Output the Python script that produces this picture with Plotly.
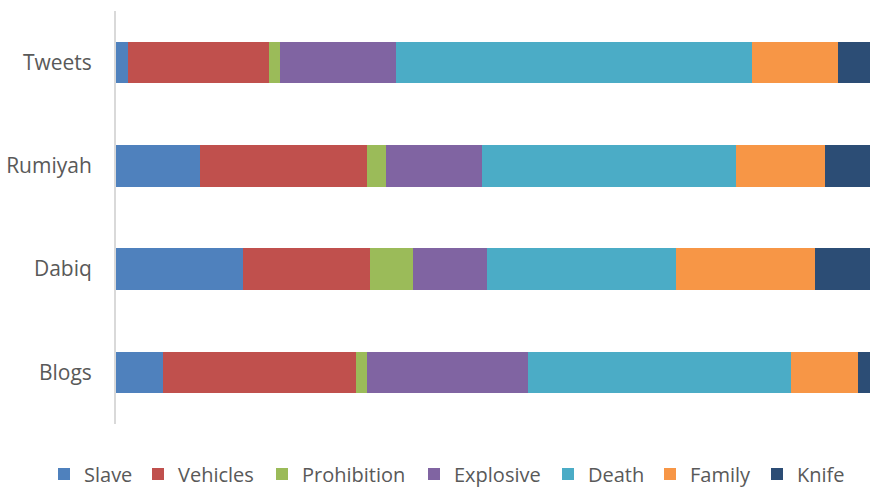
import plotly.graph_objects as go

categories = ["Blogs", "Dabiq", "Rumiyah", "Tweets"]
series_names = ["Slave", "Vehicles", "Prohibition", "Explosive", "Death", "Family", "Knife"]
slave = [6.2, 16.8, 11.1, 1.6]
vehicles = [25.6, 16.9, 22.2, 18.7]
prohibition = [1.5, 5.7, 2.6, 1.4]
explosive = [21.3, 9.9, 12.7, 15.5]
death = [34.9, 25.0, 33.7, 47.1]
family = [8.9, 18.5, 11.8, 11.5]
knife = [1.6, 7.3, 6.0, 4.2]
colors = ["#4F81BD", "#C0504D", "#9BBB59", "#8064A2", "#4BACC6", "#F79646", "#2C4D75"]

values = [slave, vehicles, prohibition, explosive, death, family, knife]

# legend entry left edges (pixels, figure container)
legend_left_px = [62, 156, 280, 432, 566, 668, 775]

W, H = 870, 488

fig = go.Figure()
legend_layouts = {}
for i, (name, vals, col) in enumerate(zip(series_names, values, colors)):
    lname = "legend" if i == 0 else f"legend{i+1}"
    fig.add_trace(go.Bar(
        y=categories, x=vals, name=name, orientation="h",
        marker=dict(color=col, line=dict(width=0)),
        legend=lname,
    ))
    legend_layouts[lname] = dict(
        orientation="h", xref="container", yref="container",
        x=(legend_left_px[i] - 18) / W, xanchor="left",
        y=(H - 474) / H, yanchor="middle",
        font=dict(size=20, color="#595959"),
        bgcolor="rgba(0,0,0,0)",
    )

fig.update_layout(
    barmode="stack",
    barnorm="percent",
    bargap=0.6,
    width=W, height=H,
    margin=dict(l=116, r=0, t=11, b=64),
    paper_bgcolor="white", plot_bgcolor="white",
    font=dict(family="Open Sans", size=20, color="#595959"),
    xaxis=dict(range=[0, 100], visible=False, showgrid=False, zeroline=False),
    yaxis=dict(showline=True, linecolor="#D9D9D9", linewidth=2, ticks="",
               ticklabelstandoff=18, tickfont=dict(size=21, color="#595959"),
               showgrid=False, zeroline=False),
    showlegend=True,
    **legend_layouts,
)

fig.write_html(
    "out.html",
    config={"displayModeBar": False},
    post_script="document.body.style.margin='0';document.body.style.overflow='hidden';",
)
